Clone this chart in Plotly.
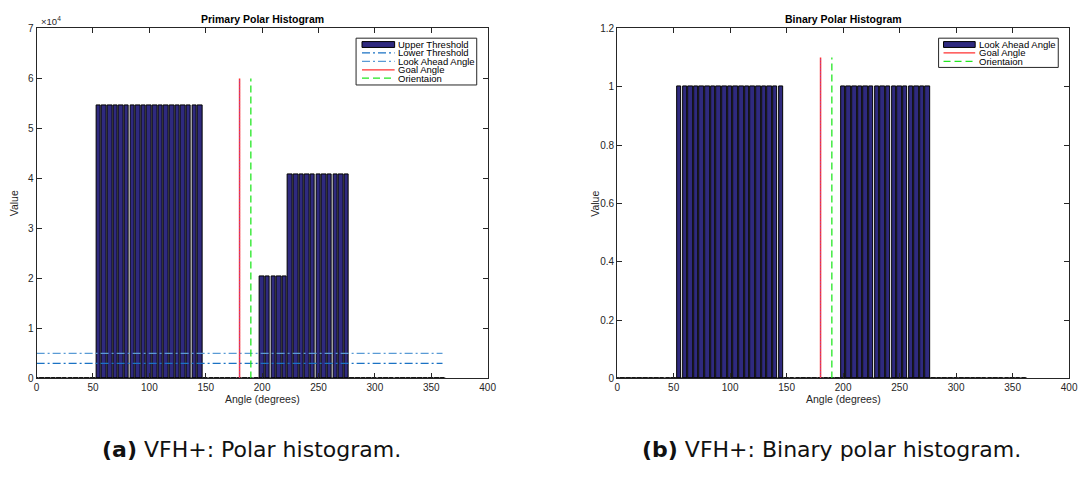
import plotly.graph_objects as go

# ---------------- data ----------------
angles = list(range(0, 365, 5))  # 0..360 step 5
primary_blocks = [(55, 145, 54600), (200, 220, 20400), (225, 275, 40800)]
binary_blocks = [(55, 145, 1), (200, 275, 1)]

def fill(blocks):
    vals = []
    for a in angles:
        v = 0
        for lo, hi, val in blocks:
            if lo <= a <= hi:
                v = val
        vals.append(v)
    return vals

primary_values = fill(primary_blocks)
binary_values = fill(binary_blocks)

upper_threshold = 5000
lower_threshold = 3000
threshold_span = [0, 360]
goal_angle = 180
orientation = 190
marker_height_primary = 60000
marker_height_binary = 1.1

primary_yticks = [0, 10000, 20000, 30000, 40000, 50000, 60000, 70000]
primary_yticktext = ["0", "1", "2", "3", "4", "5", "6", "7"]
binary_yticks = [0, 0.2, 0.4, 0.6, 0.8, 1.0, 1.2]
binary_yticktext = ["0", "0.2", "0.4", "0.6", "0.8", "1", "1.2"]
xticks = [0, 50, 100, 150, 200, 250, 300, 350, 400]

# ---------------- style ----------------
W, H = 1090, 480
BAR = "#2f2a7f"
C_LT = "#1a72c4"     # lower threshold line
C_LA = "#5a9bd5"     # look-ahead line
C_GOAL = "#ff3030"
C_ORI = "#22e622"
AX = "#262626"
FONT = "Liberation Sans, Arial, sans-serif"

def px(x):
    return x / W

def py(y):
    return 1 - y / H

fig = go.Figure()

# ---- left: primary ----
fig.add_trace(go.Bar(x=angles, y=primary_values, width=4, marker=dict(color=BAR, line=dict(color="black", width=1)),
                     name="Upper Threshold", xaxis="x", yaxis="y", showlegend=False))
fig.add_trace(go.Scatter(x=[angles[0] - 2.5, angles[-1] + 2.5], y=[0, 0], mode="lines",
                         line=dict(color="black", width=2), xaxis="x", yaxis="y", showlegend=False, hoverinfo="skip"))
fig.add_trace(go.Scatter(x=threshold_span, y=[upper_threshold] * 2, mode="lines",
                         line=dict(color=C_LA, width=1.2, dash="8px,3px,2px,3px"), name="Look Ahead Angle",
                         xaxis="x", yaxis="y", showlegend=False))
fig.add_trace(go.Scatter(x=threshold_span, y=[lower_threshold] * 2, mode="lines",
                         line=dict(color=C_LT, width=1.2, dash="8px,3px,2px,3px"), name="Lower Threshold",
                         xaxis="x", yaxis="y", showlegend=False))
fig.add_trace(go.Scatter(x=[goal_angle] * 2, y=[0, marker_height_primary], mode="lines",
                         line=dict(color=C_GOAL, width=1.5), name="Goal Angle", xaxis="x", yaxis="y", showlegend=False))
fig.add_trace(go.Scatter(x=[goal_angle] * 2, y=[0, marker_height_primary], mode="lines",
                         line=dict(color="#6a5aff", width=0.8, dash="1px,2px"), xaxis="x", yaxis="y",
                         showlegend=False, hoverinfo="skip"))
fig.add_trace(go.Scatter(x=[orientation] * 2, y=[0, marker_height_primary], mode="lines",
                         line=dict(color=C_ORI, width=1.3, dash="7px,4px"), name="Orientaion",
                         xaxis="x", yaxis="y", showlegend=False))

# ---- right: binary ----
fig.add_trace(go.Bar(x=angles, y=binary_values, width=4, marker=dict(color=BAR, line=dict(color="black", width=1)),
                     name="Look Ahead Angle", xaxis="x2", yaxis="y2", showlegend=False))
fig.add_trace(go.Scatter(x=[angles[0] - 2.5, angles[-1] + 2.5], y=[0, 0], mode="lines",
                         line=dict(color="black", width=2), xaxis="x2", yaxis="y2", showlegend=False, hoverinfo="skip"))
fig.add_trace(go.Scatter(x=[goal_angle] * 2, y=[0, marker_height_binary], mode="lines",
                         line=dict(color=C_GOAL, width=1.5), name="Goal Angle", xaxis="x2", yaxis="y2", showlegend=False))
fig.add_trace(go.Scatter(x=[goal_angle] * 2, y=[0, marker_height_binary], mode="lines",
                         line=dict(color="#6a5aff", width=0.8, dash="1px,2px"), xaxis="x2", yaxis="y2",
                         showlegend=False, hoverinfo="skip"))
fig.add_trace(go.Scatter(x=[orientation] * 2, y=[0, marker_height_binary], mode="lines",
                         line=dict(color=C_ORI, width=1.3, dash="7px,4px"), name="Orientaion",
                         xaxis="x2", yaxis="y2", showlegend=False))

axis_common = dict(showgrid=False, zeroline=False, showline=True, linecolor=AX, linewidth=1,
                   ticks="inside", ticklen=5, tickcolor=AX, mirror="allticks",
                   tickfont=dict(family=FONT, size=10, color=AX))

L = (34, 490)
R = (621, 1078)
TOP, BOT = 23, 382

fig.update_layout(
    width=W, height=H, margin=dict(l=0, r=0, t=0, b=0),
    paper_bgcolor="white", plot_bgcolor="white", bargap=0, showlegend=False,
    xaxis=dict(domain=[px(L[0]), px(L[1])], range=[0, 400], tickvals=xticks, anchor="y", **axis_common),
    yaxis=dict(domain=[py(BOT), py(TOP)], range=[0, 70000], tickvals=primary_yticks, ticktext=primary_yticktext,
               anchor="x", **axis_common),
    xaxis2=dict(domain=[px(R[0]), px(R[1])], range=[0, 400], tickvals=xticks, anchor="y2", **axis_common),
    yaxis2=dict(domain=[py(BOT), py(TOP)], range=[0, 1.2], tickvals=binary_yticks, ticktext=binary_yticktext,
                anchor="x2", **axis_common),
)

ann = []
shapes = []

def text(x, y, s, size=10, xanchor="center", angle=0, family=FONT, color=AX):
    ann.append(dict(x=px(x), y=py(y), xref="paper", yref="paper", text=s, showarrow=False,
                    xanchor=xanchor, yanchor="middle", textangle=angle,
                    font=dict(family=family, size=size, color=color)))

# titles
text((L[0] + L[1]) / 2, 13, "<b>Primary Polar Histogram</b>", size=10.5, color="black")
text((R[0] + R[1]) / 2, 13, "<b>Binary Polar Histogram</b>", size=10.5, color="black")
# exponent
text(36, 15, "×10<sup>4</sup>", size=9.5, xanchor="left")
# axis titles
text((L[0] + L[1]) / 2, 403, "Angle (degrees)", size=10.5)
text((R[0] + R[1]) / 2, 403, "Angle (degrees)", size=10.5)
text(12, (TOP + BOT) / 2, "Value", size=10.5, angle=-90)
text(599, (TOP + BOT) / 2, "Value", size=10.5, angle=-90)
# captions
CAP = "DejaVu Sans, sans-serif"
text(251, 455, "<b>(a)</b> VFH+: Polar histogram.", size=22, family=CAP, color="#111111")
text(838, 455, "<b>(b)</b> VFH+: Binary polar histogram.", size=22, family=CAP, color="#111111")

# custom legends
def legend(x0, y0, x1, y1, entries, sx0, sx1, tx, ys):
    shapes.append(dict(type="rect", xref="paper", yref="paper", x0=px(x0), x1=px(x1), y0=py(y1), y1=py(y0),
                       line=dict(color=AX, width=1), fillcolor="white", layer="above"))
    for (label, kind, color, dash), yy in zip(entries, ys):
        if kind == "bar":
            shapes.append(dict(type="rect", xref="paper", yref="paper", x0=px(sx0), x1=px(sx1),
                               y0=py(yy + 3), y1=py(yy - 3), fillcolor=BAR,
                               line=dict(color="black", width=1), layer="above"))
        else:
            shapes.append(dict(type="line", xref="paper", yref="paper", x0=px(sx0), x1=px(sx1),
                               y0=py(yy), y1=py(yy), line=dict(color=color, width=1.2, dash=dash), layer="above"))
        text(tx, yy, label, size=9.5, xanchor="left", color="black")

legend(357, 33, 479, 81,
       [("Upper Threshold", "bar", BAR, None),
        ("Lower Threshold", "line", C_LT, "8px,3px,2px,3px"),
        ("Look Ahead Angle", "line", C_LA, "8px,3px,2px,3px"),
        ("Goal Angle", "line", C_GOAL, "solid"),
        ("Orientaion", "line", C_ORI, "7px,4px")],
       363, 396, 397, [39.5, 48, 56.8, 65.5, 74])

legend(946, 33, 1067, 63,
       [("Look Ahead Angle", "bar", BAR, None),
        ("Goal Angle", "line", C_GOAL, "solid"),
        ("Orientaion", "line", C_ORI, "7px,4px")],
       951, 983, 985, [39.5, 48, 56.8])

fig.update_layout(annotations=ann, shapes=shapes)
fig.write_html("out.html")
